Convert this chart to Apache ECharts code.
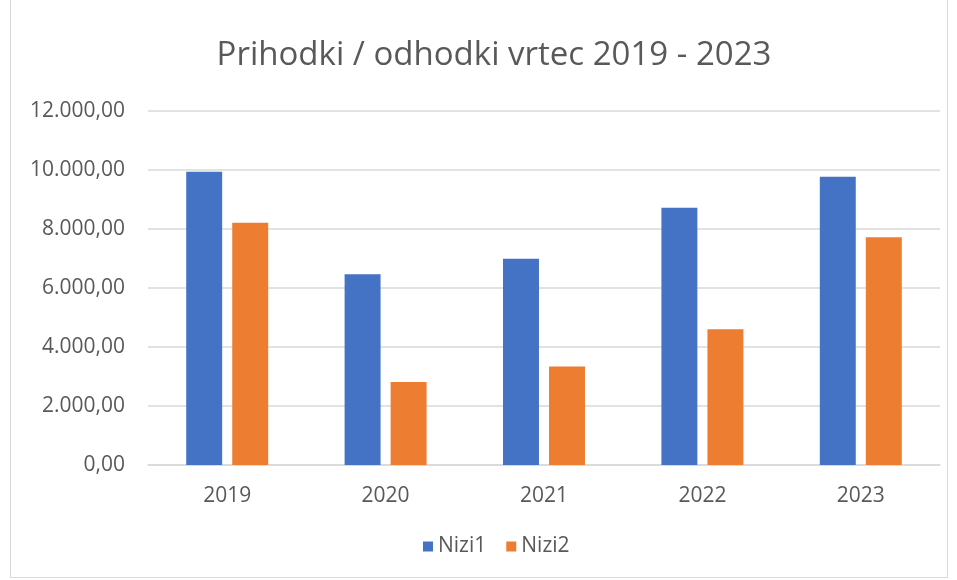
<!DOCTYPE html>
<html>
<head>
<meta charset="utf-8">
<title>Prihodki / odhodki vrtec 2019 - 2023</title>
<script src="https://cdn.jsdelivr.net/npm/echarts@6/dist/echarts.min.js"></script>
<style>
    html, body { margin: 0; padding: 0; background: #fff; }
    #chart { width: 957px; height: 580px; }
    #frame { position: absolute; left: 10px; top: -1px; width: 936px; height: 577px; border: 1px solid #d9d9d9; pointer-events: none; }
</style>
</head>
<body>
<div id="chart"></div>
<div id="frame"></div>
<script>
// podatki
var years = ['2019', '2020', '2021', '2022', '2023'];
var nizi1 = [9940, 6465, 6995, 8720, 9775];
var nizi2 = [8215, 2815, 3335, 4600, 7720];

function fmtSl(v) {
    // 12000 -> 12.000,00
    var parts = Number(v).toFixed(2).split('.');
    parts[0] = parts[0].replace(/\B(?=(\d{3})+(?!\d))/g, '.');
    return parts[0] + ',' + parts[1];
}

var chart = echarts.init(document.getElementById('chart'));
var option = {
    animation: false,
    textStyle: { fontFamily: 'Open Sans' },
    title: {
        text: 'Prihodki / odhodki vrtec 2019 - 2023',
        left: 489,
        textAlign: 'center',
        top: 34,
        textStyle: { fontFamily: 'Open Sans', fontSize: 33, fontWeight: 'normal', color: '#595959' }
    },
    legend: {
        data: ['Nizi1', 'Nizi2'],
        bottom: 18,
        left: 418,
        icon: 'rect',
        itemWidth: 10,
        itemHeight: 10,
        itemGap: 20,
        textStyle: { fontSize: 21, color: '#595959' }
    },
    grid: {
        left: 148,
        right: 17,
        top: 111,
        bottom: 115,
        containLabel: false
    },
    xAxis: {
        type: 'category',
        data: years,
        axisLine: { lineStyle: { color: '#d9d9d9', width: 1.5 } },
        axisTick: { show: false },
        axisLabel: { fontSize: 21, color: '#595959', margin: 21 }
    },
    yAxis: {
        type: 'value',
        min: 0,
        max: 12000,
        interval: 2000,
        axisLine: { show: false },
        axisTick: { show: false },
        splitLine: { lineStyle: { color: '#d9d9d9', width: 1.5 } },
        axisLabel: { fontSize: 21, color: '#595959', margin: 23, formatter: fmtSl }
    },
    series: [
        {
            name: 'Nizi1',
            type: 'bar',
            data: nizi1,
            barWidth: '22.7%',
            barGap: '28%',
            itemStyle: { color: '#4472c4' }
        },
        {
            name: 'Nizi2',
            type: 'bar',
            data: nizi2,
            barWidth: '22.7%',
            itemStyle: { color: '#ed7d31' }
        }
    ]
};
chart.setOption(option);
</script>
</body>
</html>
